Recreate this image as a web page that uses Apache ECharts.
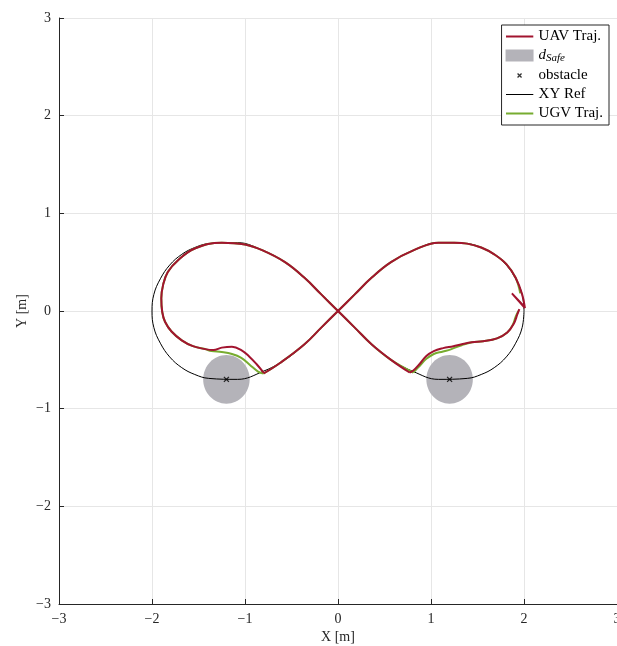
<!DOCTYPE html>
<html>
<head>
<meta charset="utf-8">
<script src="https://cdn.jsdelivr.net/npm/echarts@6/dist/echarts.min.js"></script>
<style>
  html, body { margin: 0; padding: 0; background: #fff; }
  #chart { width: 617px; height: 646px; }
</style>
</head>
<body>
<div id="chart"></div>
<script>
// reference figure-eight
const refPath = [
  [2.00, 0.00], [1.98, 0.17], [1.91, 0.33], [1.81, 0.47], [1.68, 0.58], [1.54, 0.65],
  [1.39, 0.69], [1.08, 0.70], [0.81, 0.62], [0.57, 0.50], [0.36, 0.34], [0.18, 0.17], [0, 0],
  [-0.18, -0.17], [-0.36, -0.34], [-0.57, -0.50], [-0.81, -0.62], [-1.08, -0.70], [-1.39, -0.69],
  [-1.54, -0.65], [-1.68, -0.58], [-1.81, -0.47], [-1.91, -0.33], [-1.98, -0.17], [-2.00, 0.00],
  [-1.98, 0.17], [-1.91, 0.33], [-1.81, 0.47], [-1.68, 0.58], [-1.54, 0.65], [-1.39, 0.69],
  [-1.08, 0.70], [-0.81, 0.62], [-0.57, 0.50], [-0.36, 0.34], [-0.18, 0.17], [0, 0],
  [0.18, -0.17], [0.36, -0.34], [0.57, -0.50], [0.81, -0.62], [1.08, -0.70], [1.39, -0.69],
  [1.54, -0.65], [1.68, -0.58], [1.81, -0.47], [1.91, -0.33], [1.98, -0.17], [2.00, 0.00]
];

// UAV trajectory, null = break at the sharp turns
const uavPath = [
  [2.01, 0.03], [1.87, 0.18], [2.00, 0.05],
  null,
  [1.95, 0.02], [1.93, -0.03], [1.89, -0.13], [1.82, -0.22], [1.71, -0.28], [1.56, -0.31],
  [1.44, -0.32], [1.33, -0.34], [1.24, -0.36], [1.13, -0.38], [1.03, -0.41], [0.95, -0.46],
  [0.88, -0.54], [0.81, -0.61], [0.77, -0.63],
  null,
  [0.77, -0.63], [0.57, -0.50], [0.36, -0.34], [0.18, -0.17], [0, 0],
  [-0.18, 0.17], [-0.36, 0.34], [-0.57, 0.50], [-0.81, 0.62], [-1.00, 0.68], [-1.25, 0.70],
  [-1.54, 0.64], [-1.72, 0.52], [-1.83, 0.40], [-1.88, 0.27], [-1.90, 0.13], [-1.89, -0.01],
  [-1.86, -0.11], [-1.79, -0.21], [-1.68, -0.30], [-1.56, -0.36], [-1.43, -0.39], [-1.34, -0.40],
  [-1.25, -0.375], [-1.14, -0.365], [-1.04, -0.40], [-0.95, -0.47], [-0.87, -0.55], [-0.80, -0.63],
  null,
  [-0.80, -0.64], [-0.62, -0.53], [-0.36, -0.34], [-0.18, -0.17], [0, 0],
  [0.18, 0.17], [0.36, 0.34], [0.57, 0.50], [0.81, 0.62], [1.08, 0.70], [1.25, 0.70],
  [1.39, 0.69], [1.54, 0.65], [1.68, 0.58], [1.81, 0.48], [1.91, 0.34], [1.98, 0.17], [2.01, 0.03]
];

// UGV trajectory
const ugvPath = [
  [1.94, 0.00], [1.91, -0.06], [1.88, -0.14], [1.82, -0.22], [1.71, -0.28], [1.56, -0.31],
  [1.44, -0.32], [1.33, -0.35], [1.22, -0.39], [1.13, -0.415], [1.03, -0.44], [0.95, -0.49],
  [0.88, -0.56], [0.81, -0.63],
  null,
  [0.81, -0.63], [0.57, -0.50], [0.36, -0.34], [0.18, -0.17], [0, 0],
  [-0.18, 0.17], [-0.36, 0.34], [-0.57, 0.50], [-0.81, 0.62], [-1.00, 0.68], [-1.25, 0.70],
  [-1.54, 0.64], [-1.72, 0.52], [-1.83, 0.40], [-1.88, 0.27], [-1.90, 0.13], [-1.89, -0.01],
  [-1.86, -0.11], [-1.79, -0.21], [-1.68, -0.30], [-1.56, -0.36], [-1.43, -0.39],
  [-1.36, -0.41], [-1.25, -0.42], [-1.14, -0.44], [-1.04, -0.48], [-0.95, -0.55], [-0.86, -0.62],
  [-0.80, -0.64],
  null,
  [-0.80, -0.64], [-0.62, -0.53], [-0.36, -0.34], [-0.18, -0.17], [0, 0],
  [0.18, 0.17], [0.36, 0.34], [0.57, 0.50], [0.81, 0.62], [1.08, 0.70], [1.25, 0.70],
  [1.39, 0.69], [1.54, 0.65], [1.68, 0.58], [1.81, 0.48], [1.91, 0.34], [1.96, 0.18]
];

const obstacles = [[-1.2, -0.7], [1.2, -0.7]];
const safeRadius = 0.25;
const axisTicks = [-3, -2, -1, 0, 1, 2, 3];

const colors = {
  uav: '#a2142f',
  ugv: '#77ac30',
  ref: '#000000',
  safe: '#b4b3b9',
  axis: '#262626',
  grid: '#e6e6e6'
};
const serif = "'Liberation Serif', 'DejaVu Serif', serif";

const gap = p => (p === null ? ['-', '-'] : p);
const fmt = v => (v < 0 ? '\u2212' + Math.abs(v) : String(v));

// legend icons as small svg pictures
const svgIcon = body => 'image://data:image/svg+xml;utf8,' +
  '<svg xmlns="http://www.w3.org/2000/svg" width="28" height="12">' + body + '</svg>';
const lineIcon = (c, w) => svgIcon('<line x1="0" y1="6" x2="28" y2="6" stroke="' + c.replace('#', '%23') + '" stroke-width="' + w + '"/>');
const xIcon = svgIcon('<path d="M12 4 L16 8 M16 4 L12 8" stroke="black" stroke-width="1.3"/>');

const chart = echarts.init(document.getElementById('chart'));

const axisCommon = {
  type: 'value',
  min: axisTicks[0],
  max: axisTicks[axisTicks.length - 1],
  interval: 1,
  axisLine: { show: true, onZero: false, lineStyle: { color: colors.axis, width: 1 } },
  axisTick: { show: true, inside: true, length: 5, lineStyle: { color: colors.axis } },
  splitLine: { show: true, lineStyle: { color: colors.grid, width: 1 } },
  axisLabel: { color: colors.axis, fontFamily: serif, fontSize: 14, formatter: fmt },
  nameLocation: 'middle',
  nameMoveOverlap: false,
  nameTextStyle: { color: colors.axis, fontFamily: serif, fontSize: 14 }
};

chart.setOption({
  animation: false,
  backgroundColor: '#fff',
  grid: { left: 59, top: 18, right: 0, bottom: 42, containLabel: false, outerBoundsMode: 'none' },
  xAxis: Object.assign({}, axisCommon, {
    name: 'X [m]', nameGap: 26,
    axisLabel: Object.assign({}, axisCommon.axisLabel, { margin: 8, showMaxLabel: true })
  }),
  yAxis: Object.assign({}, axisCommon, {
    name: 'Y [m]', nameGap: 30, nameRotate: 90,
    axisLabel: Object.assign({}, axisCommon.axisLabel, { margin: 8 })
  }),
  legend: {
    orient: 'vertical',
    right: 8,
    top: 25,
    padding: [4, 6, 4, 4],
    itemGap: 4,
    itemWidth: 28,
    itemHeight: 12,
    backgroundColor: '#fff',
    borderColor: colors.axis,
    borderWidth: 1,
    textStyle: {
      color: '#000', fontFamily: serif, fontSize: 15,
      rich: {
        d: { fontFamily: serif, fontStyle: 'italic', fontSize: 15, color: '#000' },
        s: { fontFamily: serif, fontStyle: 'italic', fontSize: 11, color: '#000', padding: [6, 0, 0, 0] }
      }
    },
    formatter: name => (name === 'dSafe' ? '{d|d}{s|Safe}' : name),
    data: [
      { name: 'UAV Traj.', icon: lineIcon(colors.uav, 2) },
      { name: 'dSafe', icon: 'rect', itemStyle: { color: colors.safe } },
      { name: 'obstacle', icon: xIcon },
      { name: 'XY Ref', icon: lineIcon(colors.ref, 1) },
      { name: 'UGV Traj.', icon: lineIcon(colors.ugv, 2) }
    ]
  },
  series: [
    {
      name: 'dSafe',
      type: 'custom',
      coordinateSystem: 'cartesian2d',
      z: 1,
      data: obstacles,
      itemStyle: { color: colors.safe },
      renderItem: (params, api) => {
        const c = api.coord([api.value(0), api.value(1)]);
        const s = api.size([safeRadius, safeRadius]);
        return {
          type: 'ellipse',
          shape: { cx: c[0], cy: c[1], rx: s[0], ry: s[1] },
          style: { fill: colors.safe }
        };
      }
    },
    {
      name: 'XY Ref',
      type: 'line',
      z: 2,
      data: refPath,
      smooth: 0.4,
      showSymbol: false,
      symbol: 'none',
      color: colors.ref,
      lineStyle: { color: colors.ref, width: 1 }
    },
    {
      name: 'obstacle',
      type: 'scatter',
      z: 3,
      data: obstacles,
      symbol: 'path://M0,0L10,10M10,0L0,10',
      symbolSize: 5,
      itemStyle: { color: 'none', borderColor: '#000', borderWidth: 1.3 }
    },
    {
      name: 'UGV Traj.',
      type: 'line',
      z: 4,
      data: ugvPath.map(gap),
      smooth: 0.4,
      showSymbol: false,
      symbol: 'none',
      color: colors.ugv,
      lineStyle: { color: colors.ugv, width: 2 }
    },
    {
      name: 'UAV Traj.',
      type: 'line',
      z: 5,
      data: uavPath.map(gap),
      smooth: 0.4,
      showSymbol: false,
      symbol: 'none',
      color: colors.uav,
      lineStyle: { color: colors.uav, width: 2 }
    }
  ]
});
window.addEventListener('resize', () => chart.resize());
</script>
</body>
</html>
